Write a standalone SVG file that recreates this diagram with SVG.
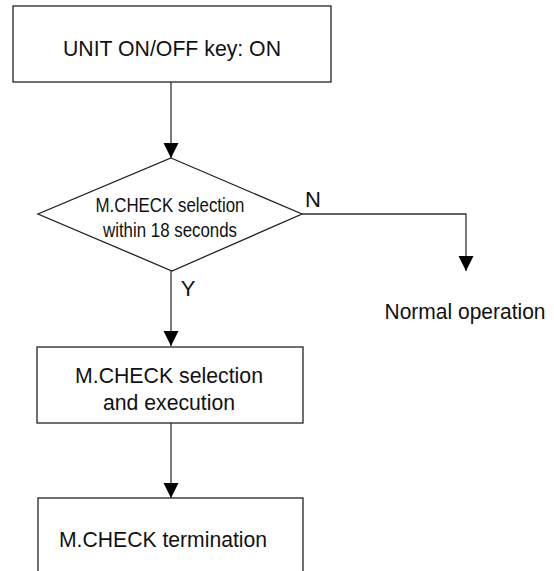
<svg xmlns="http://www.w3.org/2000/svg" width="554" height="571" viewBox="0 0 554 571">
<style>
.box{fill:#fff;stroke:#222;stroke-width:1.3}
.t{font-family:"Liberation Sans",Arial,sans-serif;font-size:22px;fill:#111;text-anchor:middle}
.td{font-family:"Liberation Sans",Arial,sans-serif;font-size:20px;fill:#111;text-anchor:middle}
.c{fill:none;stroke:#333;stroke-width:1.3}
</style>
<defs>
<marker id="ah" markerUnits="userSpaceOnUse" markerWidth="16" markerHeight="16" refX="15" refY="7.5" orient="auto">
<path d="M0,0 L15,7.5 L0,15 Z" fill="#000"/>
</marker>
</defs>
<rect width="554" height="571" fill="#fff"/>
<g id="n-start">
<rect class="box" x="13" y="6" width="318" height="76"/>
<text class="t" x="172" y="56" textLength="218" lengthAdjust="spacingAndGlyphs">UNIT ON/OFF key: ON</text>
</g>
<g id="n-decision">
<polygon class="box" points="171,158 302,214 172,271 38,214"/>
<text class="td" x="170" y="212" textLength="149" lengthAdjust="spacingAndGlyphs">M.CHECK selection</text>
<text class="td" x="170" y="237" textLength="134" lengthAdjust="spacingAndGlyphs">within 18 seconds</text>
</g>
<g id="n-normal">
<text class="t" x="465" y="319" textLength="161" lengthAdjust="spacingAndGlyphs">Normal operation</text>
</g>
<g id="n-exec">
<rect class="box" x="37" y="347" width="266" height="76"/>
<text class="t" x="169" y="383" textLength="188" lengthAdjust="spacingAndGlyphs">M.CHECK selection</text>
<text class="t" x="169" y="410" textLength="132" lengthAdjust="spacingAndGlyphs">and execution</text>
</g>
<g id="n-term">
<rect class="box" x="38" y="498" width="265" height="100"/>
<text class="t" x="163" y="547" textLength="208" lengthAdjust="spacingAndGlyphs">M.CHECK termination</text>
</g>
<g id="connectors">
<path class="c" d="M171,82 V158" marker-end="url(#ah)"/>
<path class="c" d="M302,214 H466 V271" marker-end="url(#ah)"/>
<path class="c" d="M171,271 V346" marker-end="url(#ah)"/>
<path class="c" d="M171,423 V498" marker-end="url(#ah)"/>
<text class="t" x="313" y="207">N</text>
<text class="t" x="188" y="296">Y</text>
</g>
</svg>
